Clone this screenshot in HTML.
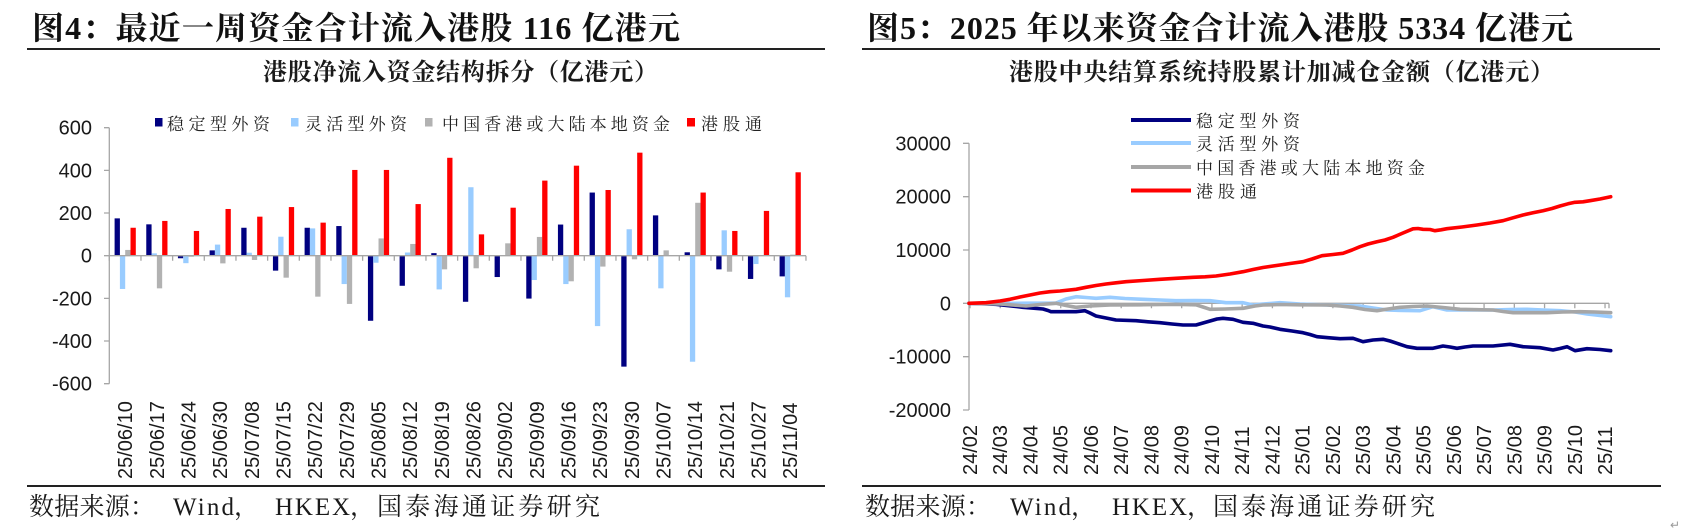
<!DOCTYPE html>
<html><head><meta charset="utf-8"><style>
html,body{margin:0;padding:0;background:#fff;}
svg{display:block;}
.t{font-family:"Liberation Serif","Noto Serif CJK SC",serif;font-weight:bold;fill:#111;}
.st{font-family:"Liberation Serif","Noto Serif CJK SC",serif;font-weight:bold;fill:#1a1a1a;}
.lg{font-family:"Liberation Serif","Noto Serif CJK SC",serif;fill:#222;}
.src{font-family:"Liberation Serif","Noto Serif CJK SC",serif;fill:#1a1a1a;font-size:25px;}
.n{font-family:"Liberation Sans",Arial,sans-serif;font-size:20px;fill:#1a1a1a;}
.a{fill:#000080}.b{fill:#99ccff}.c{fill:#b2b2b2}.d{fill:#ff0000}
</style></head><body>
<svg width="1686" height="531" viewBox="0 0 1686 531" xmlns="http://www.w3.org/2000/svg">
<rect x="0" y="0" width="1686" height="531" fill="#fff"/>

<!-- ================= LEFT ================= -->
<text class="t" x="32" y="39" font-size="32" textLength="648">图4：最近一周资金合计流入港股 116 亿港元</text>
<line x1="27" y1="49" x2="825" y2="49" stroke="#222" stroke-width="2"/>
<text class="st" x="263" y="80" font-size="24" textLength="395">港股净流入资金结构拆分（亿港元）</text>

<!-- legend -->
<rect class="a" x="155" y="118" width="7.5" height="8.5"/>
<text class="lg" x="167" y="130" font-size="17" textLength="103">稳定型外资</text>
<rect class="b" x="291" y="118" width="7.5" height="8.5"/>
<text class="lg" x="305" y="130" font-size="17" textLength="102">灵活型外资</text>
<rect class="c" x="425" y="118" width="7.5" height="8.5"/>
<text class="lg" x="442" y="130" font-size="17" textLength="228">中国香港或大陆本地资金</text>
<rect class="d" x="687" y="118" width="8" height="8.5"/>
<text class="lg" x="701" y="130" font-size="17" textLength="61">港股通</text>

<!-- y axis -->
<g stroke="#a6a6a6" stroke-width="1.3" fill="none">
<line x1="109.3" y1="127.7" x2="109.3" y2="383.7"/>
<path d="M104 127.7H109.3M104 170.4H109.3M104 213H109.3M104 255.7H109.3M104 298.4H109.3M104 341H109.3M104 383.7H109.3"/>
</g>
<g class="n" text-anchor="end">
<text x="92" y="134.7">600</text>
<text x="92" y="177.4">400</text>
<text x="92" y="220">200</text>
<text x="92" y="262.7">0</text>
<text x="92" y="305.4">-200</text>
<text x="92" y="348">-400</text>
<text x="92" y="390.7">-600</text>
</g>

<!-- bars -->
<g transform="translate(0,255.7) scale(1,-0.21333)">
<g transform="translate(109.3,0)"><rect class="a" x="5.3" y="0" width="5.3" height="175"/><rect class="b" x="10.6" y="-156" width="5.3" height="156"/><rect class="c" x="15.9" y="0" width="5.3" height="27"/><rect class="d" x="21.2" y="0" width="5.3" height="131"/></g>
<g transform="translate(140.97,0)"><rect class="a" x="5.3" y="0" width="5.3" height="147"/><rect class="b" x="10.6" y="0" width="5.3" height="11"/><rect class="c" x="15.9" y="-153" width="5.3" height="153"/><rect class="d" x="21.2" y="0" width="5.3" height="163"/></g>
<g transform="translate(172.63,0)"><rect class="a" x="5.3" y="-12" width="5.3" height="12"/><rect class="b" x="10.6" y="-35" width="5.3" height="35"/><rect class="c" x="15.9" y="-5" width="5.3" height="5"/><rect class="d" x="21.2" y="0" width="5.3" height="116"/></g>
<g transform="translate(204.3,0)"><rect class="a" x="5.3" y="0" width="5.3" height="25"/><rect class="b" x="10.6" y="0" width="5.3" height="52"/><rect class="c" x="15.9" y="-36" width="5.3" height="36"/><rect class="d" x="21.2" y="0" width="5.3" height="219"/></g>
<g transform="translate(235.97,0)"><rect class="a" x="5.3" y="0" width="5.3" height="131"/><rect class="b" x="10.6" y="0" width="5.3" height="14"/><rect class="c" x="15.9" y="-20" width="5.3" height="20"/><rect class="d" x="21.2" y="0" width="5.3" height="183"/></g>
<g transform="translate(267.63,0)"><rect class="a" x="5.3" y="-70" width="5.3" height="70"/><rect class="b" x="10.6" y="0" width="5.3" height="89"/><rect class="c" x="15.9" y="-103" width="5.3" height="103"/><rect class="d" x="21.2" y="0" width="5.3" height="228"/></g>
<g transform="translate(299.3,0)"><rect class="a" x="5.3" y="0" width="5.3" height="131"/><rect class="b" x="10.6" y="0" width="5.3" height="128"/><rect class="c" x="15.9" y="-192" width="5.3" height="192"/><rect class="d" x="21.2" y="0" width="5.3" height="155"/></g>
<g transform="translate(330.97,0)"><rect class="a" x="5.3" y="0" width="5.3" height="139"/><rect class="b" x="10.6" y="-133" width="5.3" height="133"/><rect class="c" x="15.9" y="-226" width="5.3" height="226"/><rect class="d" x="21.2" y="0" width="5.3" height="402"/></g>
<g transform="translate(362.63,0)"><rect class="a" x="5.3" y="-305" width="5.3" height="305"/><rect class="b" x="10.6" y="-33" width="5.3" height="33"/><rect class="c" x="15.9" y="0" width="5.3" height="81"/><rect class="d" x="21.2" y="0" width="5.3" height="402"/></g>
<g transform="translate(394.3,0)"><rect class="a" x="5.3" y="-141" width="5.3" height="141"/><rect class="b" x="10.6" y="0" width="5.3" height="15"/><rect class="c" x="15.9" y="0" width="5.3" height="55"/><rect class="d" x="21.2" y="0" width="5.3" height="242"/></g>
<g transform="translate(425.97,0)"><rect class="a" x="5.3" y="0" width="5.3" height="12"/><rect class="b" x="10.6" y="-158" width="5.3" height="158"/><rect class="c" x="15.9" y="-64" width="5.3" height="64"/><rect class="d" x="21.2" y="0" width="5.3" height="459"/></g>
<g transform="translate(457.63,0)"><rect class="a" x="5.3" y="-216" width="5.3" height="216"/><rect class="b" x="10.6" y="0" width="5.3" height="321"/><rect class="c" x="15.9" y="-59" width="5.3" height="59"/><rect class="d" x="21.2" y="0" width="5.3" height="100"/></g>
<g transform="translate(489.3,0)"><rect class="a" x="5.3" y="-100" width="5.3" height="100"/><rect class="b" x="10.6" y="0" width="5.3" height="3"/><rect class="c" x="15.9" y="0" width="5.3" height="58"/><rect class="d" x="21.2" y="0" width="5.3" height="225"/></g>
<g transform="translate(520.97,0)"><rect class="a" x="5.3" y="-201" width="5.3" height="201"/><rect class="b" x="10.6" y="-114" width="5.3" height="114"/><rect class="c" x="15.9" y="0" width="5.3" height="88"/><rect class="d" x="21.2" y="0" width="5.3" height="352"/></g>
<g transform="translate(552.63,0)"><rect class="a" x="5.3" y="0" width="5.3" height="146"/><rect class="b" x="10.6" y="-133" width="5.3" height="133"/><rect class="c" x="15.9" y="-120" width="5.3" height="120"/><rect class="d" x="21.2" y="0" width="5.3" height="422"/></g>
<g transform="translate(584.3,0)"><rect class="a" x="5.3" y="0" width="5.3" height="296"/><rect class="b" x="10.6" y="-330" width="5.3" height="330"/><rect class="c" x="15.9" y="-51" width="5.3" height="51"/><rect class="d" x="21.2" y="0" width="5.3" height="308"/></g>
<g transform="translate(615.97,0)"><rect class="a" x="5.3" y="-520" width="5.3" height="520"/><rect class="b" x="10.6" y="0" width="5.3" height="124"/><rect class="c" x="15.9" y="-17" width="5.3" height="17"/><rect class="d" x="21.2" y="0" width="5.3" height="483"/></g>
<g transform="translate(647.63,0)"><rect class="a" x="5.3" y="0" width="5.3" height="189"/><rect class="b" x="10.6" y="-153" width="5.3" height="153"/><rect class="c" x="15.9" y="0" width="5.3" height="25"/></g>
<g transform="translate(679.3,0)"><rect class="a" x="5.3" y="0" width="5.3" height="16"/><rect class="b" x="10.6" y="-497" width="5.3" height="497"/><rect class="c" x="15.9" y="0" width="5.3" height="248"/><rect class="d" x="21.2" y="0" width="5.3" height="296"/></g>
<g transform="translate(710.97,0)"><rect class="a" x="5.3" y="-64" width="5.3" height="64"/><rect class="b" x="10.6" y="0" width="5.3" height="119"/><rect class="c" x="15.9" y="-75" width="5.3" height="75"/><rect class="d" x="21.2" y="0" width="5.3" height="116"/></g>
<g transform="translate(742.63,0)"><rect class="a" x="5.3" y="-109" width="5.3" height="109"/><rect class="b" x="10.6" y="-39" width="5.3" height="39"/><rect class="c" x="15.9" y="0" width="5.3" height="3"/><rect class="d" x="21.2" y="0" width="5.3" height="210"/></g>
<g transform="translate(774.3,0)"><rect class="a" x="5.3" y="-97" width="5.3" height="97"/><rect class="b" x="10.6" y="-195" width="5.3" height="195"/><rect class="c" x="15.9" y="0" width="5.3" height="5"/><rect class="d" x="21.2" y="0" width="5.3" height="391"/></g>
</g>

<!-- x axis left -->
<g stroke="#a6a6a6" stroke-width="1.3" fill="none">
<line x1="109.3" y1="255.7" x2="806" y2="255.7"/>
<path d="M109.3 255.7v5M140.97 255.7v5M172.63 255.7v5M204.3 255.7v5M235.97 255.7v5M267.63 255.7v5M299.3 255.7v5M330.97 255.7v5M362.63 255.7v5M394.3 255.7v5M425.97 255.7v5M457.63 255.7v5M489.3 255.7v5M520.97 255.7v5M552.63 255.7v5M584.3 255.7v5M615.97 255.7v5M647.63 255.7v5M679.3 255.7v5M710.97 255.7v5M742.63 255.7v5M774.3 255.7v5M805.97 255.7v5"/>
</g>
<g class="n">
<text transform="translate(132.1,479) rotate(-90)">25/06/10</text>
<text transform="translate(163.8,479) rotate(-90)">25/06/17</text>
<text transform="translate(195.4,479) rotate(-90)">25/06/24</text>
<text transform="translate(227.1,479) rotate(-90)">25/06/30</text>
<text transform="translate(258.8,479) rotate(-90)">25/07/08</text>
<text transform="translate(290.4,479) rotate(-90)">25/07/15</text>
<text transform="translate(322.1,479) rotate(-90)">25/07/22</text>
<text transform="translate(353.8,479) rotate(-90)">25/07/29</text>
<text transform="translate(385.4,479) rotate(-90)">25/08/05</text>
<text transform="translate(417.1,479) rotate(-90)">25/08/12</text>
<text transform="translate(448.8,479) rotate(-90)">25/08/19</text>
<text transform="translate(480.4,479) rotate(-90)">25/08/26</text>
<text transform="translate(512.1,479) rotate(-90)">25/09/02</text>
<text transform="translate(543.8,479) rotate(-90)">25/09/09</text>
<text transform="translate(575.4,479) rotate(-90)">25/09/16</text>
<text transform="translate(607.1,479) rotate(-90)">25/09/23</text>
<text transform="translate(638.8,479) rotate(-90)">25/09/30</text>
<text transform="translate(670.4,479) rotate(-90)">25/10/07</text>
<text transform="translate(702.1,479) rotate(-90)">25/10/14</text>
<text transform="translate(733.8,479) rotate(-90)">25/10/21</text>
<text transform="translate(765.4,479) rotate(-90)">25/10/27</text>
<text transform="translate(797.1,479) rotate(-90)">25/11/04</text>
</g>

<line x1="27" y1="486" x2="825" y2="486" stroke="#222" stroke-width="2"/>
<g class="src">
<text x="29" y="515" textLength="126">数据来源：</text>
<text x="173" y="515" textLength="61">Wind</text>
<text x="234" y="515">，</text>
<text x="275" y="515" textLength="75">HKEX</text>
<text x="350" y="515">，</text>
<text x="377" y="515" textLength="223">国泰海通证券研究</text>
</g>

<!-- ================= RIGHT ================= -->
<text class="t" x="867" y="39" font-size="32" textLength="706">图5：2025 年以来资金合计流入港股 5334 亿港元</text>
<line x1="862" y1="49" x2="1660" y2="49" stroke="#222" stroke-width="2"/>
<text class="st" x="1009" y="80" font-size="24" textLength="545">港股中央结算系统持股累计加减仓金额（亿港元）</text>

<!-- y axis -->
<g stroke="#a6a6a6" stroke-width="1.3" fill="none">
<line x1="969" y1="143.3" x2="969" y2="410"/>
<path d="M963 143.3H969M963 196.7H969M963 250H969M963 303.3H969M963 356.7H969M963 410H969"/>
<line x1="969" y1="303.3" x2="1609" y2="303.3"/>
<path d="M970 303.3v5M1000.24 303.3v5M1030.48 303.3v5M1060.72 303.3v5M1090.96 303.3v5M1121.2 303.3v5M1151.44 303.3v5M1181.68 303.3v5M1211.92 303.3v5M1242.16 303.3v5M1272.4 303.3v5M1302.64 303.3v5M1332.88 303.3v5M1363.12 303.3v5M1393.36 303.3v5M1423.6 303.3v5M1453.84 303.3v5M1484.08 303.3v5M1514.32 303.3v5M1544.56 303.3v5M1574.8 303.3v5M1605.04 303.3v5M1609 303.3v5"/>
</g>
<g class="n" text-anchor="end">
<text x="951" y="150.3">30000</text>
<text x="951" y="203.7">20000</text>
<text x="951" y="257">10000</text>
<text x="951" y="310.3">0</text>
<text x="951" y="363.7">-10000</text>
<text x="951" y="417">-20000</text>
</g>
<g class="n">
<text transform="translate(977,475) rotate(-90)">24/02</text>
<text transform="translate(1007.2,475) rotate(-90)">24/03</text>
<text transform="translate(1037.5,475) rotate(-90)">24/04</text>
<text transform="translate(1067.7,475) rotate(-90)">24/05</text>
<text transform="translate(1098,475) rotate(-90)">24/06</text>
<text transform="translate(1128.2,475) rotate(-90)">24/07</text>
<text transform="translate(1158.4,475) rotate(-90)">24/08</text>
<text transform="translate(1188.7,475) rotate(-90)">24/09</text>
<text transform="translate(1218.9,475) rotate(-90)">24/10</text>
<text transform="translate(1249.2,475) rotate(-90)">24/11</text>
<text transform="translate(1279.4,475) rotate(-90)">24/12</text>
<text transform="translate(1309.6,475) rotate(-90)">25/01</text>
<text transform="translate(1339.9,475) rotate(-90)">25/02</text>
<text transform="translate(1370.1,475) rotate(-90)">25/03</text>
<text transform="translate(1400.4,475) rotate(-90)">25/04</text>
<text transform="translate(1430.6,475) rotate(-90)">25/05</text>
<text transform="translate(1460.8,475) rotate(-90)">25/06</text>
<text transform="translate(1491.1,475) rotate(-90)">25/07</text>
<text transform="translate(1521.3,475) rotate(-90)">25/08</text>
<text transform="translate(1551.6,475) rotate(-90)">25/09</text>
<text transform="translate(1581.8,475) rotate(-90)">25/10</text>
<text transform="translate(1612,475) rotate(-90)">25/11</text>
</g>

<!-- lines -->
<g fill="none" stroke-width="3.6" stroke-linejoin="round" stroke-linecap="round">
<polyline stroke="#000080" points="969,303.3 985,303.8 996,304.3 1010,305.8 1023,307.3 1043,309 1048,310.5 1051,311.7 1065,311.7 1076,311.7 1085,310.7 1090,313 1096,316 1106,318 1116,320 1136,320.7 1148,321.8 1160,322.7 1172,324 1183,325 1196,325 1203,323 1210,321 1217,319 1223,318.3 1233,319.3 1243,322.3 1253,323.3 1263,326 1270,327 1280,329.3 1292,331 1303,332.7 1310,334.5 1317,336.7 1328,337.7 1340,338.7 1353,338.3 1363,341.7 1373,340 1383,339.3 1390,341 1397,343.3 1407,346.7 1417,348.3 1433,348.3 1443,346 1450,347 1457,348.3 1465,347 1473,346 1493,346 1510,344.3 1523,346.7 1540,347.7 1553,350 1560,348.5 1567,346.7 1575,350.7 1587,348.7 1600,349.5 1610.7,350.7"/>
<polyline stroke="#99ccff" points="969,303.3 1000,303.5 1030,303.2 1056,303 1066,299 1076,296.7 1086,297.5 1096,298.3 1110,297.3 1125,298.5 1143,299.3 1160,300 1176,300.7 1195,300.5 1210,300.7 1226,302.7 1243,302.7 1253,305 1260,304.3 1280,302.7 1300,304 1327,305 1343,305.5 1360,306 1373,308 1387,310 1403,310.5 1420,310.7 1433,306.7 1447,310 1470,310 1493,310 1510,309.5 1527,309.3 1543,310 1560,310.7 1575,312 1587,314 1600,315.5 1610.7,316.7"/>
<polyline stroke="#a6a6a6" points="969,303.3 1000,304 1026,306 1040,304.5 1056,303.3 1066,305.5 1076,307.3 1090,306 1110,305 1140,304.8 1176,304.3 1196,304.8 1203,307 1210,309.3 1225,309 1243,308.3 1255,306 1263,305 1280,304.5 1300,304.8 1327,305 1340,306 1353,307.3 1365,309.5 1377,310.7 1388,309 1400,307.3 1413,306.5 1427,306 1443,307.5 1460,309.3 1477,309.7 1493,310 1503,311.5 1513,312.7 1530,312.7 1547,312.7 1563,312 1580,311.7 1595,312 1610.7,312.7"/>
<polyline stroke="#ff0000" points="969,303.3 986,302.7 1000,301 1010,299.3 1020,297 1030,295 1040,293 1050,291.7 1060,291 1076,289.3 1086,287.3 1096,285.5 1106,284 1116,282.8 1126,281.7 1143,280.5 1160,279.3 1176,278.3 1193,277.3 1205,276.8 1216,276 1230,274 1243,271.7 1253,269.5 1263,267.5 1280,265 1290,263.5 1303,261.7 1312,259 1322,255.7 1333,254.5 1343,253.3 1352,250 1360,246.7 1368,244 1377,241.7 1385,240 1393,237.3 1403,233 1413,228.8 1418,228.5 1423,229.3 1430,229.5 1435,230.7 1441,229.8 1447,228.7 1462,227 1477,225 1490,223 1503,220.7 1513,217.8 1523,215 1533,212.8 1543,210.7 1552,208.5 1560,206 1568,203.8 1575,202.3 1583,201.8 1590,200.7 1600,199 1610.7,196.7"/>
</g>

<!-- legend right -->
<g stroke-width="4">
<line x1="1131" y1="120" x2="1191" y2="120" stroke="#000080"/>
<line x1="1131" y1="143" x2="1191" y2="143" stroke="#99ccff"/>
<line x1="1131" y1="167" x2="1191" y2="167" stroke="#a6a6a6"/>
<line x1="1131" y1="190.5" x2="1191" y2="190.5" stroke="#ff0000"/>
</g>
<text class="lg" x="1196" y="127" font-size="17" textLength="104">稳定型外资</text>
<text class="lg" x="1196" y="150" font-size="17" textLength="104">灵活型外资</text>
<text class="lg" x="1196" y="174" font-size="17" textLength="229">中国香港或大陆本地资金</text>
<text class="lg" x="1196" y="197.5" font-size="17" textLength="61">港股通</text>

<line x1="862" y1="486" x2="1661" y2="486" stroke="#222" stroke-width="2"/>
<g class="src">
<text x="865" y="515" textLength="126">数据来源：</text>
<text x="1010" y="515" textLength="61">Wind</text>
<text x="1071" y="515">，</text>
<text x="1112" y="515" textLength="75">HKEX</text>
<text x="1187" y="515">，</text>
<text x="1213" y="515" textLength="222">国泰海通证券研究</text>
</g>
<text x="1670" y="529" font-size="12" fill="#999" font-family="'Liberation Sans',sans-serif">↵</text>
</svg>
</body></html>
